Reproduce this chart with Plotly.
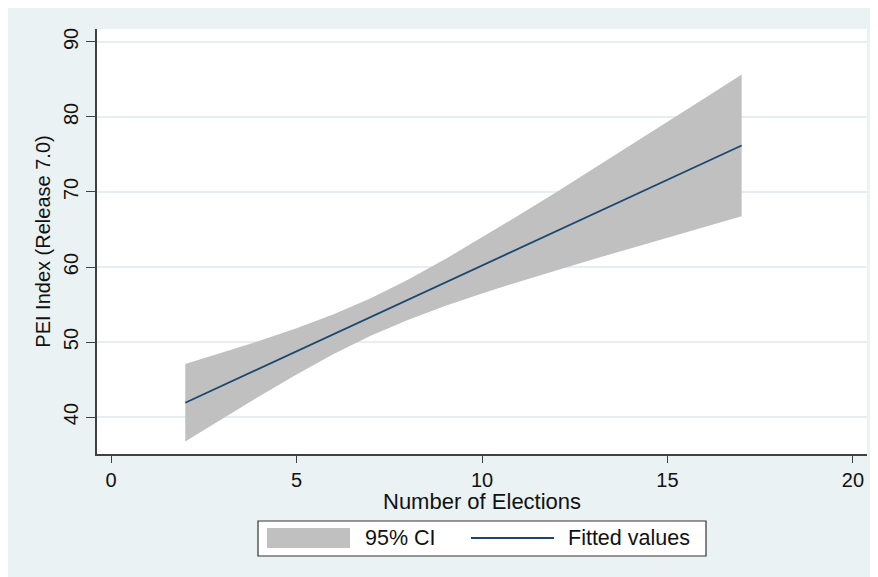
import plotly.graph_objects as go

# Data
num_elections = [2, 3, 4, 5, 6, 7, 8, 9, 10, 11, 12, 13, 14, 15, 16, 17]
fitted_values = [41.90, 44.19, 46.47, 48.76, 51.05, 53.34, 55.62, 57.91,
                 60.20, 62.48, 64.77, 67.06, 69.34, 71.63, 73.92, 76.20]
ci_upper = [47.07, 48.59, 50.16, 51.85, 53.71, 55.85, 58.30, 61.03,
            63.93, 66.92, 69.98, 73.09, 76.20, 79.34, 82.50, 85.65]
ci_lower = [36.73, 39.79, 42.78, 45.67, 48.39, 50.83, 52.94, 54.79,
            56.47, 58.04, 59.56, 61.03, 62.48, 63.92, 65.34, 66.75]
x_ticks = [0, 5, 10, 15, 20]
y_ticks = [40, 50, 60, 70, 80, 90]
x_title = "Number of Elections"
y_title = "PEI Index (Release 7.0)"

BG = "#eaf2f3"
GRID = "#e6eef1"
FILL = "#c0c0c0"
LINE = "#1a476f"
AXIS = "#404040"
FONT = "Arial, Liberation Sans, sans-serif"

fig = go.Figure()
fig.add_trace(go.Scatter(x=num_elections, y=ci_lower, mode="lines",
                         line=dict(width=0, color=FILL), showlegend=False,
                         hoverinfo="skip"))
fig.add_trace(go.Scatter(x=num_elections, y=ci_upper, mode="lines",
                         line=dict(width=0, color=FILL), fill="tonexty",
                         fillcolor=FILL, name="95% CI", showlegend=False))
fig.add_trace(go.Scatter(x=num_elections, y=fitted_values, mode="lines",
                         line=dict(width=1.8, color=LINE),
                         name="Fitted values", showlegend=False))

# the page body adds an 8px offset; figure sized so it ends at the window edge
W, H = 870, 569
L, R, T, B = 89, 11, 21, 123
pw, ph = W - L - R, H - T - B
OFF = 8


def px(x):
    return (x - OFF - L) / pw


def py(y):
    return (H - B - (y - OFF)) / ph


shapes = [
    # legend box
    dict(type="rect", xref="paper", yref="paper", x0=px(258), x1=px(706),
         y0=py(556), y1=py(521), fillcolor="white",
         line=dict(width=1.2, color="#333333"), layer="above"),
    # CI swatch
    dict(type="rect", xref="paper", yref="paper", x0=px(267), x1=px(350),
         y0=py(548), y1=py(528), fillcolor=FILL, line=dict(width=0), layer="above"),
    # line swatch
    dict(type="line", xref="paper", yref="paper", x0=px(471), x1=px(554),
         y0=py(538), y1=py(538), line=dict(width=1.8, color=LINE), layer="above"),
]

annotations = [
    dict(text=x_title, xref="paper", yref="paper", x=0.5, y=py(501),
         xanchor="center", yanchor="middle", showarrow=False,
         font=dict(family=FONT, size=22, color="#111111")),
    dict(text="95% CI", xref="paper", yref="paper", x=px(363), y=py(538),
         xanchor="left", yanchor="middle", showarrow=False,
         font=dict(family=FONT, size=21.5, color="#111111")),
    dict(text="Fitted values", xref="paper", yref="paper", x=px(566), y=py(538),
         xanchor="left", yanchor="middle", showarrow=False,
         font=dict(family=FONT, size=21.5, color="#111111")),
]

fig.update_layout(
    width=W, height=H,
    margin=dict(l=L, r=R, t=T, b=B, pad=0),
    paper_bgcolor=BG, plot_bgcolor="white",
    font=dict(family=FONT, size=20, color="#111111"),
    showlegend=False,
    shapes=shapes, annotations=annotations,
    xaxis=dict(range=[-0.38, 20.38], tickvals=x_ticks, ticks="outside",
               ticklen=7, tickwidth=1.2, tickcolor=AXIS, showgrid=False,
               zeroline=False, showline=True, linecolor=AXIS, linewidth=1.5,
               tickfont=dict(size=20)),
    yaxis=dict(range=[35.07, 91.73], tickvals=y_ticks, ticks="outside",
               ticklen=9, tickwidth=1.2, tickcolor=AXIS, showgrid=True,
               gridcolor=GRID, gridwidth=1.5, zeroline=False,
               showline=True, linecolor=AXIS, linewidth=1.5,
               tickangle=-90, tickfont=dict(size=20),
               title=dict(text=y_title, standoff=4,
                          font=dict(size=20))),
)

fig.write_html("out.html")
